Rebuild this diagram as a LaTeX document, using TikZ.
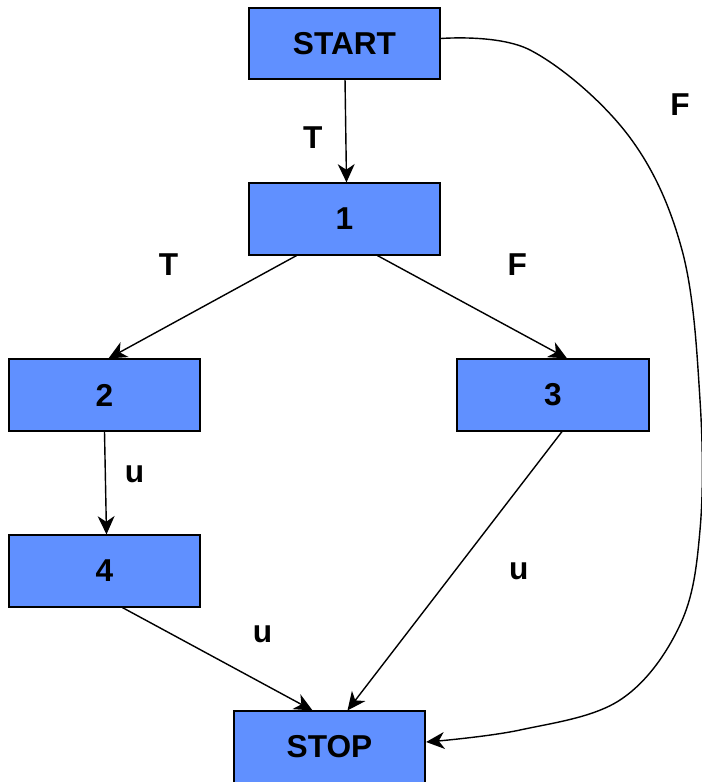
\documentclass[tikz,border=0pt]{standalone}
\usepackage{fontspec}
\setmainfont{Liberation Sans}
\usetikzlibrary{arrows.meta}
\definecolor{boxblue}{RGB}{96,144,255}
\tikzset{
  block/.style={draw,line width=1.4pt,fill=boxblue,minimum width=4.78cm,minimum height=1.78cm,inner sep=0pt},
  flow/.style={-{Stealth[length=13pt,width=12pt,inset=4pt]},line width=1pt}
}
\begin{document}
\begin{tikzpicture}[x=0.025cm,y=-0.025cm,font=\fontsize{22.5}{27}\selectfont\bfseries]
\useasboundingbox (0,0) rectangle (702,782);
\node[block] (start) at (344.5,43.5) {START};
\node[block] (n1) at (344.5,219) {1};
\node[block] (n2) at (104.5,395) {2};
\node[block] (n3) at (553,395) {3};
\node[block] (n4) at (104.5,571) {4};
\node[block] (stop) at (329.5,747) {STOP};
\draw[flow] (start) -- ([xshift=0.05cm]n1.north) node [midway,shift={(-33,6)}] {T};
\draw[flow] ([xshift=-1.2cm]n1.south) -- ([xshift=0.1cm]n2.north) node [midway,shift={(-34,-42)}] {T};
\draw[flow] ([xshift=0.825cm]n1.south) -- ([xshift=0.35cm]n3.north) node [midway,shift={(45,-42)}] {F};
\draw[flow] (n2.south) -- ([xshift=0.05cm]n4.north) node [midway,shift={(29,-9)}] {u};
\draw[flow] ([xshift=0.45cm]n4.south) -- ([xshift=-0.425cm]stop.north) node [midway,shift={(45,-25)}] {u};
\draw[flow] ([xshift=0.225cm]n3.south) -- ([xshift=0.45cm]stop.north) node [midway,shift={(64,0)}] {u};
\draw[flow] plot[smooth,tension=0.6] coordinates {([yshift=0.125cm]start.east) (530,50) (628,135) (682,250) (700,400) (700,530) (680,625) (620,700) (520,730) ([yshift=0.125cm]stop.east)};
\node (fback) at (680,105) {F};
\end{tikzpicture}
\end{document}
